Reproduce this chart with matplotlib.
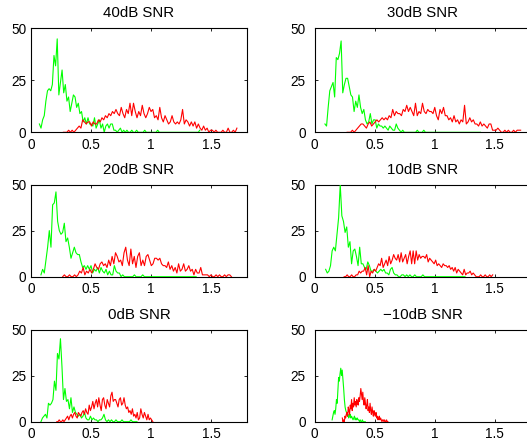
import matplotlib
matplotlib.use('Agg')
import matplotlib.pyplot as plt
import numpy as np

# data ---------------------------------------------------------------------
snr_titles = ['40dB SNR', '30dB SNR', '20dB SNR', '10dB SNR', '0dB SNR', '\u221210dB SNR']

x_ticks = [0, 0.5, 1, 1.5]
x_tick_labels = ['0', '0.5', '1', '1.5']
y_ticks = [0, 25, 50]
y_tick_labels = ['0', '25', '50']

# first bin centre and bin width of each histogram
green_start = [0.070, 0.085, 0.083, 0.091, 0.083, 0.145]
green_step = [0.0135, 0.0135, 0.0139, 0.0135, 0.0125, 0.006]
red_start = [0.270, 0.270, 0.264, 0.245, 0.215, 0.230]
red_step = [0.0146, 0.0146, 0.0142, 0.0125, 0.010, 0.0055]

green_40db = [4, 2, 6, 8, 15, 20, 21, 20, 23, 37, 32, 45, 18, 24, 30, 19, 23, 15, 17, 10,
              14, 18, 17, 12, 14, 9, 10, 5, 7, 4, 7, 4, 4, 3, 7, 2, 4, 6, 2, 4,
              0, 3, 4, 2, 4, 4, 1, 1, 0, 1, 2, 0, 1, 0, 1, 0, 0, 1, 0, 0,
              1, 0, 0, 0, 0, 1, 0, 0, 0, 0, 0, 0, 0, 1, 0, 0, 0, 0, 0, 0,
              0, 0, 0, 0, 0, 0, 0, 0, 0, 0, 0, 0, 0, 0, 0, 0, 0, 0, 0, 1]
red_40db = [0, 0, 0, 1, 0, 1, 0, 1, 2, 3, 2, 6, 5, 4, 5, 5, 3, 5, 4, 4,
            6, 5, 7, 6, 8, 7, 9, 8, 10, 9, 11, 9, 8, 12, 9, 7, 11, 9, 14, 8,
            14, 10, 7, 10, 8, 13, 9, 7, 9, 12, 10, 11, 7, 8, 6, 12, 7, 5, 8, 6,
            4, 5, 8, 5, 4, 5, 4, 6, 11, 4, 6, 5, 3, 5, 3, 5, 2, 4, 2, 1,
            3, 1, 2, 0, 1, 1, 0, 1, 0, 0, 0, 1, 0, 0, 2, 0, 0, 1, 0, 2]

green_30db = [4, 3, 12, 20, 22, 24, 17, 36, 35, 38, 44, 19, 23, 26, 26, 22, 18, 17, 10, 15,
              12, 18, 12, 9, 11, 6, 4, 5, 9, 4, 6, 6, 2, 4, 3, 3, 2, 3, 2, 1,
              3, 2, 1, 1, 4, 2, 1, 0, 1, 0, 0, 0, 0, 0, 0, 0, 0, 1, 0, 0,
              0, 1, 0, 0, 0, 0, 0, 0, 0, 0, 0, 0, 0, 0, 0, 0, 0, 0, 0, 0,
              0, 0, 0, 0, 0, 0, 0, 0, 0, 0, 0, 0, 0, 0, 0, 0, 0]
red_30db = [0, 0, 0, 1, 0, 1, 2, 3, 4, 4, 3, 2, 4, 5, 3, 4, 5, 6, 5, 6,
            7, 6, 7, 6, 8, 7, 11, 8, 10, 9, 9, 8, 11, 10, 13, 10, 12, 10, 8, 14,
            8, 10, 9, 14, 10, 9, 11, 10, 10, 9, 12, 8, 6, 11, 9, 12, 8, 8, 6, 7,
            5, 8, 5, 6, 4, 6, 5, 13, 4, 5, 7, 5, 6, 4, 4, 3, 5, 3, 4, 3,
            2, 4, 4, 1, 1, 1, 2, 1, 0, 0, 1, 0, 1, 0, 0, 1, 0, 1, 1, 1]

green_20db = [1, 4, 2, 9, 16, 25, 16, 39, 40, 46, 30, 25, 23, 24, 29, 19, 21, 16, 10, 13,
              16, 13, 12, 12, 8, 5, 6, 4, 6, 4, 6, 2, 4, 3, 5, 2, 5, 3, 2, 4,
              1, 3, 1, 1, 6, 3, 2, 2, 0, 1, 0, 0, 0, 0, 0, 0, 1, 0, 0, 0,
              0, 1, 0, 0, 0, 0, 0, 0, 0, 0, 0, 0, 0, 0, 0, 0, 0, 0, 0, 0,
              0, 0, 0, 0, 0, 0, 0, 0, 0, 0, 0, 0, 0, 0]
red_20db = [0, 1, 0, 0, 1, 0, 0, 1, 0, 1, 3, 2, 5, 1, 3, 2, 4, 2, 4, 7,
            5, 4, 7, 8, 6, 7, 5, 9, 6, 11, 7, 13, 11, 8, 9, 6, 13, 16, 9, 6,
            15, 7, 11, 5, 11, 13, 6, 9, 6, 11, 12, 9, 6, 7, 10, 10, 9, 10, 7, 6,
            6, 5, 8, 4, 6, 3, 5, 2, 7, 3, 4, 7, 3, 4, 6, 3, 4, 1, 4, 2,
            2, 5, 1, 1, 1, 1, 0, 1, 0, 0, 1, 0, 1, 0, 0, 1, 0, 1, 1, 0]

green_10db = [4, 2, 3, 6, 14, 16, 14, 23, 32, 50, 33, 30, 24, 27, 16, 19, 7, 14, 15, 11,
              6, 16, 7, 7, 5, 4, 8, 6, 3, 3, 4, 3, 2, 3, 4, 3, 4, 2, 2, 1,
              4, 5, 2, 1, 1, 0, 0, 1, 1, 0, 1, 0, 1, 0, 0, 1, 0, 0, 0, 0,
              1, 0, 0, 0, 0, 0, 0, 0, 0, 0, 0, 0, 0, 0, 0, 0, 0, 0, 0, 0,
              0, 0, 0, 0, 0, 0, 0]
red_10db = [0, 0, 1, 0, 0, 1, 0, 0, 1, 1, 3, 2, 3, 3, 5, 1, 6, 0, 3, 2,
            4, 3, 5, 7, 6, 10, 5, 7, 9, 6, 11, 7, 9, 12, 10, 9, 12, 8, 13, 8,
            10, 12, 7, 11, 14, 7, 14, 7, 14, 9, 12, 10, 11, 11, 10, 12, 8, 10, 9, 8,
            7, 9, 6, 7, 6, 5, 7, 6, 6, 5, 6, 4, 5, 3, 5, 2, 4, 3, 2, 1,
            4, 1, 2, 2, 3, 1, 2, 1, 0, 0, 0, 1, 0, 0, 1, 0, 0, 1, 0, 1]

green_0db = [0, 2, 3, 4, 2, 10, 9, 10, 12, 22, 17, 37, 34, 45, 30, 12, 18, 11, 12, 7,
             13, 5, 8, 5, 4, 3, 4, 2, 3, 5, 2, 1, 1, 3, 1, 2, 1, 1, 0, 1,
             1, 2, 4, 1, 0, 1, 0, 1, 0, 0, 1, 0, 0, 0, 1, 0, 0, 0, 0, 0,
             1, 0, 0, 0, 0]
red_0db = [0, 0, 1, 0, 0, 1, 0, 1, 2, 3, 1, 3, 4, 2, 4, 5, 3, 2, 5, 4,
           3, 5, 6, 4, 7, 5, 4, 9, 6, 8, 11, 7, 10, 12, 8, 13, 9, 6, 12, 13,
           9, 7, 12, 10, 8, 14, 16, 11, 12, 12, 10, 8, 12, 13, 9, 10, 13, 9, 7, 8,
           5, 6, 4, 7, 3, 4, 2, 5, 1, 2, 7, 4, 2, 5, 3, 1, 4, 1, 2, 1,
           0]

green_m10db = [1, 3, 5, 6, 4, 7, 12, 10, 17, 24, 22, 26, 29, 25, 28, 23, 18, 12, 8, 6,
               5, 3, 4, 2, 3, 4, 2, 3, 2, 1, 2, 3, 1, 2, 1, 2, 1, 1, 0, 1,
               0, 0, 1, 0, 0, 0, 0]
red_m10db = [2, 0, 1, 0, 3, 2, 4, 5, 3, 8, 6, 4, 9, 7, 12, 6, 10, 8, 13, 9,
             11, 8, 12, 10, 9, 13, 11, 14, 18, 15, 12, 16, 11, 9, 13, 10, 7, 9, 12, 6,
             8, 5, 10, 6, 4, 8, 5, 3, 6, 4, 3, 5, 2, 3, 1, 2, 3, 1, 2, 1,
             0, 1, 1, 0, 1, 0, 0, 1, 0, 0]

green_series = [green_40db, green_30db, green_20db, green_10db, green_0db, green_m10db]
red_series = [red_40db, red_30db, red_20db, red_10db, red_0db, red_m10db]

# layout (figure fractions) -------------------------------------------------
fig_w, fig_h = 5.27, 4.46
col_left = [0.0588, 0.5972]
col_width = 0.410
row_bottom = [0.7034, 0.3796, 0.0545]
row_height = [0.2327, 0.2067, 0.2067]
ylabel_pad = [3.5, 6.5]
title_pad = [8.5, 7.5, 7.5]
# ---------------------------------------------------------------------------


def main():
    plt.rcParams['font.family'] = ['Liberation Sans', 'DejaVu Sans']
    fig = plt.figure(figsize=(fig_w, fig_h), dpi=100)

    for i, title in enumerate(snr_titles):
        row, col = i // 2, i % 2
        ax = fig.add_axes([col_left[col], row_bottom[row], col_width, row_height[row]])

        g = green_series[i]
        r = red_series[i]
        xg = green_start[i] + green_step[i] * np.arange(len(g))
        xr = red_start[i] + red_step[i] * np.arange(len(r))
        ax.plot(xg, g, color=(0, 1, 0), lw=0.8, zorder=3)
        ax.plot(xr, r, color=(1, 0, 0), lw=0.8, zorder=3)

        ax.set_xlim(0, 1.8)
        ax.set_ylim(0, 50)
        ax.set_xticks(x_ticks)
        ax.set_xticklabels(x_tick_labels)
        ax.set_yticks(y_ticks)
        ax.set_yticklabels(y_tick_labels)
        ax.tick_params(direction='in', top=True, right=True, length=2.5,
                       width=0.6, labelsize=9.8)
        ax.tick_params(axis='x', pad=4)
        ax.tick_params(axis='y', pad=ylabel_pad[col])
        for sp in ax.spines.values():
            sp.set_linewidth(0.8)
        ax.set_title(title, fontsize=10.8, pad=title_pad[row])

    fig.savefig('out.png', dpi=100)


if __name__ == "__main__":
    main()
